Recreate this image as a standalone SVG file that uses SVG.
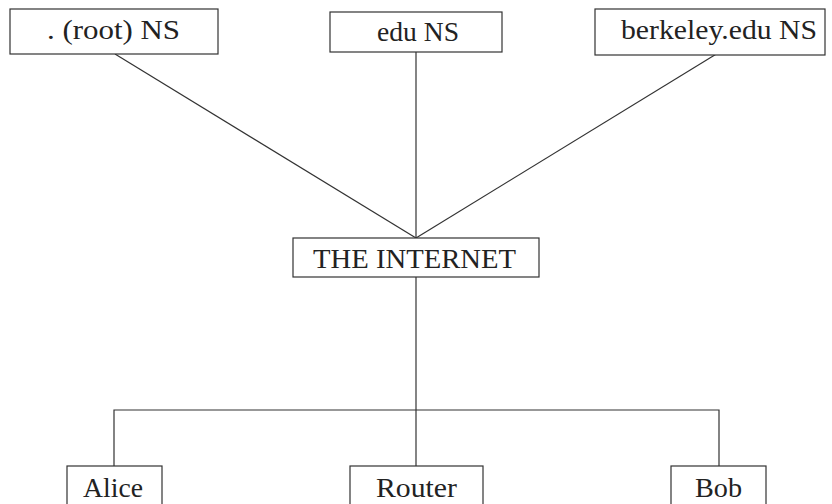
<svg xmlns="http://www.w3.org/2000/svg" width="832" height="504" viewBox="0 0 832 504">
<style>
.box{fill:#fff;stroke:#333;stroke-width:1.2}
.lbl{font-family:"Liberation Serif","DejaVu Serif",serif;font-size:28px;fill:#222;text-anchor:middle}
.con{stroke:#333;stroke-width:1.2;fill:none}
</style>
<rect width="832" height="504" fill="#fff"/>
<g id="connectors">
<line class="con" x1="115" y1="54" x2="416" y2="238"/>
<line class="con" x1="416" y1="52" x2="416" y2="238"/>
<line class="con" x1="718" y1="53" x2="416" y2="238"/>
<line class="con" x1="416" y1="277" x2="416" y2="466"/>
<polyline class="con" points="114,466 114,410 719,410 719,466"/>
</g>
<g id="root">
<rect class="box" x="10" y="9" width="208" height="45"/>
<text class="lbl" x="113.5" y="39" textLength="133" lengthAdjust="spacingAndGlyphs">.  (root) NS</text>
</g>
<g id="edu">
<rect class="box" x="330" y="12" width="172" height="40"/>
<text class="lbl" x="418" y="41" textLength="82" lengthAdjust="spacingAndGlyphs">edu NS</text>
</g>
<g id="berkeley">
<rect class="box" x="595" y="9" width="230" height="46"/>
<text class="lbl" x="719" y="39" textLength="196" lengthAdjust="spacingAndGlyphs">berkeley.edu NS</text>
</g>
<g id="internet">
<rect class="box" x="293" y="238" width="246" height="39"/>
<text class="lbl" x="414.5" y="268" textLength="203" lengthAdjust="spacingAndGlyphs">THE INTERNET</text>
</g>
<g id="alice">
<rect class="box" x="67" y="466" width="95" height="50"/>
<text class="lbl" x="113" y="497" textLength="60" lengthAdjust="spacingAndGlyphs">Alice</text>
</g>
<g id="router">
<rect class="box" x="350" y="466" width="133" height="50"/>
<text class="lbl" x="416.5" y="497" textLength="81" lengthAdjust="spacingAndGlyphs">Router</text>
</g>
<g id="bob">
<rect class="box" x="671" y="466" width="95" height="50"/>
<text class="lbl" x="718.5" y="497" textLength="47" lengthAdjust="spacingAndGlyphs">Bob</text>
</g>
</svg>
